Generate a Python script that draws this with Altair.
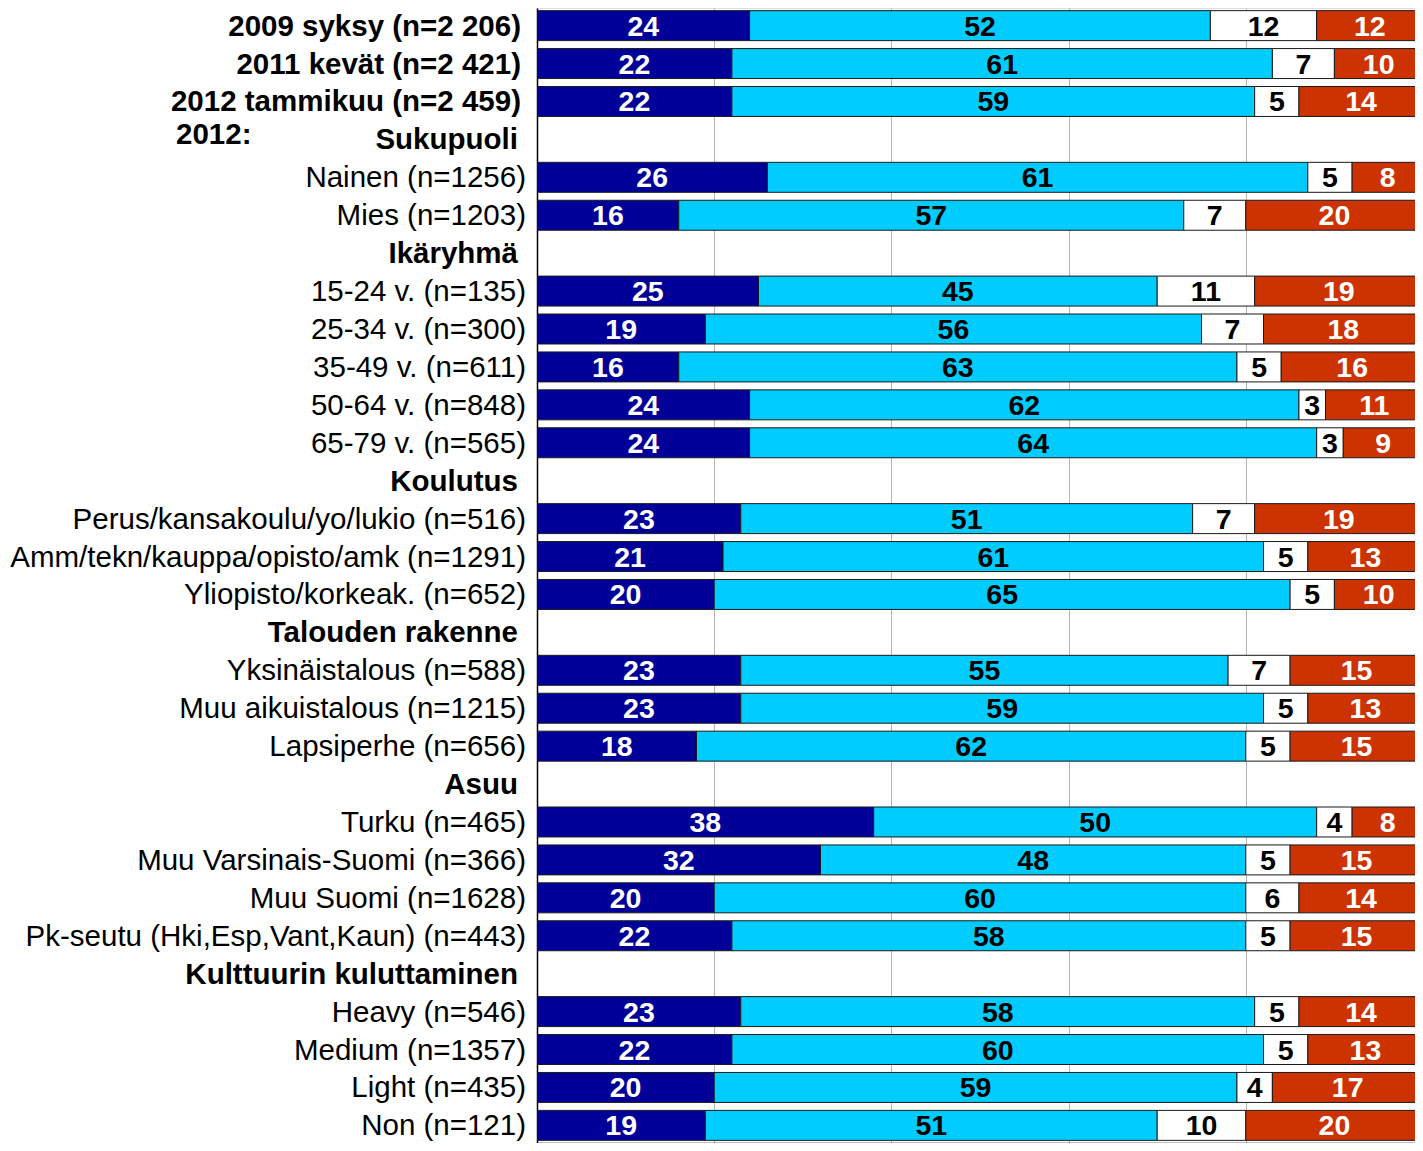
import altair as alt
import pandas as pd

# Row labels, top to bottom
rows = [
    "2009 syksy (n=2 206)", "2011 kevät (n=2 421)", "2012 tammikuu (n=2 459)",
    "Sukupuoli",
    "Nainen (n=1256)", "Mies (n=1203)",
    "Ikäryhmä",
    "15-24 v. (n=135)", "25-34 v. (n=300)", "35-49 v. (n=611)", "50-64 v. (n=848)", "65-79 v. (n=565)",
    "Koulutus",
    "Perus/kansakoulu/yo/lukio (n=516)", "Amm/tekn/kauppa/opisto/amk (n=1291)", "Yliopisto/korkeak. (n=652)",
    "Talouden rakenne",
    "Yksinäistalous (n=588)", "Muu aikuistalous (n=1215)", "Lapsiperhe (n=656)",
    "Asuu",
    "Turku (n=465)", "Muu Varsinais-Suomi (n=366)", "Muu Suomi (n=1628)", "Pk-seutu (Hki,Esp,Vant,Kaun) (n=443)",
    "Kulttuurin kuluttaminen",
    "Heavy (n=546)", "Medium (n=1357)", "Light (n=435)", "Non (n=121)",
]
# Row kind: "bold" = bold data row, "head" = group header (no bar), "norm" = normal data row
kinds = ["bold", "bold", "bold", "head", "norm", "norm", "head",
         "norm", "norm", "norm", "norm", "norm", "head",
         "norm", "norm", "norm", "head", "norm", "norm", "norm", "head",
         "norm", "norm", "norm", "norm", "head", "norm", "norm", "norm", "norm"]

# Series values (None for header rows)
s1 = [24, 22, 22, None, 26, 16, None, 25, 19, 16, 24, 24, None, 23, 21, 20, None, 23, 23, 18, None, 38, 32, 20, 22, None, 23, 22, 20, 19]
s2 = [52, 61, 59, None, 61, 57, None, 45, 56, 63, 62, 64, None, 51, 61, 65, None, 55, 59, 62, None, 50, 48, 60, 58, None, 58, 60, 59, 51]
s3 = [12, 7, 5, None, 5, 7, None, 11, 7, 5, 3, 3, None, 7, 5, 5, None, 7, 5, 5, None, 4, 5, 6, 5, None, 5, 5, 4, 10]
s4 = [12, 10, 14, None, 8, 20, None, 19, 18, 16, 11, 9, None, 19, 13, 10, None, 15, 13, 15, None, 8, 15, 14, 15, None, 14, 13, 17, 20]

series = ["s1", "s2", "s3", "s4"]
fills = ["#000099", "#00CCFF", "#FFFFFF", "#CC3300"]
textcols = ["#FFFFFF", "#000000", "#000000", "#FFFFFF"]

recs = []
for i, r in enumerate(rows):
    vals = [s1[i], s2[i], s3[i], s4[i]]
    if vals[0] is None:
        continue
    cum = 0
    for k, v in enumerate(vals):
        recs.append({"row": r, "series": series[k], "value": v,
                     "start": cum, "end": cum + v, "mid": cum + v / 2,
                     "tcol": textcols[k]})
        cum += v
bars_df = pd.DataFrame(recs)
labels_df = pd.DataFrame({"row": rows, "kind": kinds})

FONT = "Liberation Sans"
PLOT_W = 878          # visible part of the plot area (the right end is cut by the window)
XMAX = 100 * PLOT_W / 886
LFS = 29.5

yenc = alt.Y("row:N", sort=rows, scale=alt.Scale(domain=rows, paddingInner=0.21, paddingOuter=0.07),
             axis=alt.Axis(labels=False, ticks=False, title=None, domainColor="#000000", domainWidth=1.5, grid=False))

bars = alt.Chart(bars_df).mark_bar(stroke="#1a1a1a", strokeWidth=1, clip=True).encode(
    x=alt.X("start:Q", scale=alt.Scale(domain=[0, XMAX], nice=False, clamp=False),
            axis=alt.Axis(values=[0, 20, 40, 60, 80], labels=False, ticks=False, title=None,
                          grid=True, gridColor="#B4B4B4", gridWidth=1, domainColor="#000000", domainWidth=1.5)),
    x2="end:Q",
    y=yenc,
    color=alt.Color("series:N", scale=alt.Scale(domain=series, range=fills), legend=None),
)

vals = alt.Chart(bars_df).mark_text(font=FONT, fontSize=28.5, fontWeight="bold", baseline="middle", dy=1).encode(
    x="mid:Q",
    y=alt.Y("row:N", sort=rows),
    text="value:Q",
    color=alt.Color("tcol:N", scale=None),
)

top_df = pd.DataFrame({"a": [0]})
top_line = alt.Chart(top_df).mark_rule(color="#888888", strokeWidth=1).encode(
    y=alt.value(-0.5), x=alt.value(0), x2=alt.value(PLOT_W))

lab_norm = alt.Chart(labels_df).transform_filter("datum.kind == 'norm'").mark_text(
    font=FONT, fontSize=LFS, align="right", baseline="middle", dy=1).encode(
    x=alt.value(-11), y=alt.Y("row:N", sort=rows), text="row:N")
lab_bold = alt.Chart(labels_df).transform_filter("datum.kind == 'bold'").mark_text(
    font=FONT, fontSize=LFS, fontWeight="bold", align="right", baseline="middle", dy=1).encode(
    x=alt.value(-16), y=alt.Y("row:N", sort=rows), text="row:N")
lab_head = alt.Chart(labels_df).transform_filter("datum.kind == 'head'").mark_text(
    font=FONT, fontSize=LFS, fontWeight="bold", align="right", baseline="middle", dy=1).encode(
    x=alt.value(-19), y=alt.Y("row:N", sort=rows), text="row:N")
year_df = pd.DataFrame({"row": ["Sukupuoli"], "txt": ["2012:"]})
lab_year = alt.Chart(year_df).mark_text(
    font=FONT, fontSize=LFS, fontWeight="bold", align="left", baseline="middle", dy=-4).encode(
    x=alt.value(-361), y=alt.Y("row:N", sort=rows), text="txt:N")

chart = alt.layer(bars, vals, top_line, lab_norm, lab_bold, lab_head, lab_year).properties(
    width=PLOT_W, height=1135,
    autosize=alt.AutoSizeParams(type="none"),
    padding={"left": 529, "top": 0, "right": 0, "bottom": 0},
).configure_view(strokeWidth=0).configure(background="#FFFFFF")

chart.save("out.html", embed_options={"renderer": "svg", "actions": False})
